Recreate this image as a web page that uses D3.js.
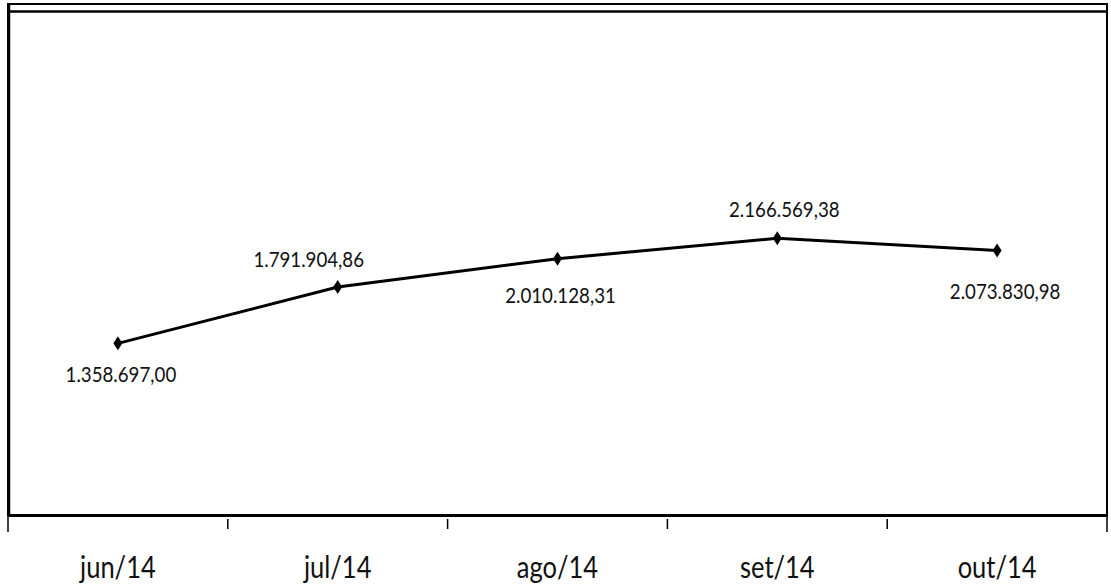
<!DOCTYPE html>
<html>
<head>
<meta charset="utf-8">
<script src="https://cdn.jsdelivr.net/npm/d3@7"></script>
<style>
  body { margin: 0; background: #fff; }
  text { font-family: Lato, "Open Sans", sans-serif; fill: #111; }
</style>
</head>
<body>
<svg id="chart"></svg>
<script>
(() => {

  // data
  const months = ['jun/14', 'jul/14', 'ago/14', 'set/14', 'out/14'];
  const values = [1358697.00, 1791904.86, 2010128.31, 2166569.38, 2073830.98];
  const yDomain = [0, 3900000];

  // label placement (layout only)
  const labelOffset = [[3, 39], [-29, -20], [3, 44], [7, -21], [8, 49]];

  const width = 1111;
  const height = 586;
  const left = 8, right = 1107, top = 4, axisY = 515;

  const svg = d3.select('#chart')
    .attr('width', width)
    .attr('height', height);

  const x = d3.scaleBand()
    .domain(months)
    .range([left, right]);

  const y = d3.scaleLinear()
    .domain(yDomain)
    .range([520, 13]);

  const br = d3.formatLocale({ decimal: ',', thousands: '.', grouping: [3], currency: ['R$', ''] });
  const fmt = br.format(',.2f');

  // frame
  svg.append('rect')
    .attr('x', left).attr('y', top)
    .attr('width', right - left).attr('height', axisY - top)
    .attr('fill', 'none').attr('stroke', '#000').attr('stroke-width', 2);
  svg.append('line')
    .attr('x1', left).attr('x2', right)
    .attr('y1', 11.5).attr('y2', 11.5)
    .attr('stroke', '#000').attr('stroke-width', 2.5);
  svg.append('line')
    .attr('x1', left + 1).attr('x2', left + 1)
    .attr('y1', top).attr('y2', axisY)
    .attr('stroke', '#000').attr('stroke-width', 2.5);

  // x axis
  const axis = svg.append('g')
    .attr('transform', `translate(0,${axisY})`)
    .call(d3.axisBottom(x).tickSize(0).tickPadding(0));
  axis.select('.domain').attr('stroke', '#000').attr('stroke-width', 3);
  axis.selectAll('.tick text')
    .attr('y', 63).attr('dy', 0)
    .attr('font-size', 30)
    .attr('fill', '#111')
    .attr('transform', 'scale(0.85,1)')
    .style('font-family', 'Lato, "Open Sans", sans-serif');

  // boundary ticks
  const bounds = months.map(m => x(m)).concat([x(months[months.length - 1]) + x.bandwidth()]);
  svg.selectAll('.btick')
    .data(bounds)
    .enter()
    .append('line')
    .attr('class', 'btick')
    .attr('x1', d => d).attr('x2', d => d)
    .attr('y1', (d, i) => (i === 0 || i === bounds.length - 1) ? axisY : axisY + 4)
    .attr('y2', (d, i) => (i === 0 || i === bounds.length - 1) ? axisY + 17 : axisY + 14)
    .attr('stroke', '#000').attr('stroke-width', 1.5);

  const cx = (d, i) => x(months[i]) + x.bandwidth() / 2;

  // line
  const line = d3.line()
    .x((d, i) => cx(d, i))
    .y(d => y(d));

  svg.append('path')
    .datum(values)
    .attr('d', line)
    .attr('fill', 'none')
    .attr('stroke', '#000')
    .attr('stroke-width', 3);

  // markers
  svg.selectAll('.marker')
    .data(values)
    .enter()
    .append('path')
    .attr('class', 'marker')
    .attr('d', 'M0,-7L4.5,0L0,7L-4.5,0Z')
    .attr('transform', (d, i) => `translate(${cx(d, i)},${y(d)})`)
    .attr('fill', '#000');

  // labels
  svg.selectAll('.vlabel')
    .data(values)
    .enter()
    .append('text')
    .attr('class', 'vlabel')
    .attr('transform', (d, i) => `translate(${cx(d, i) + labelOffset[i][0]},${y(d) + labelOffset[i][1]}) scale(0.85,1)`)
    .attr('text-anchor', 'middle')
    .attr('font-size', 22)
    .text(d => fmt(d));

})();
</script>
</body>
</html>
